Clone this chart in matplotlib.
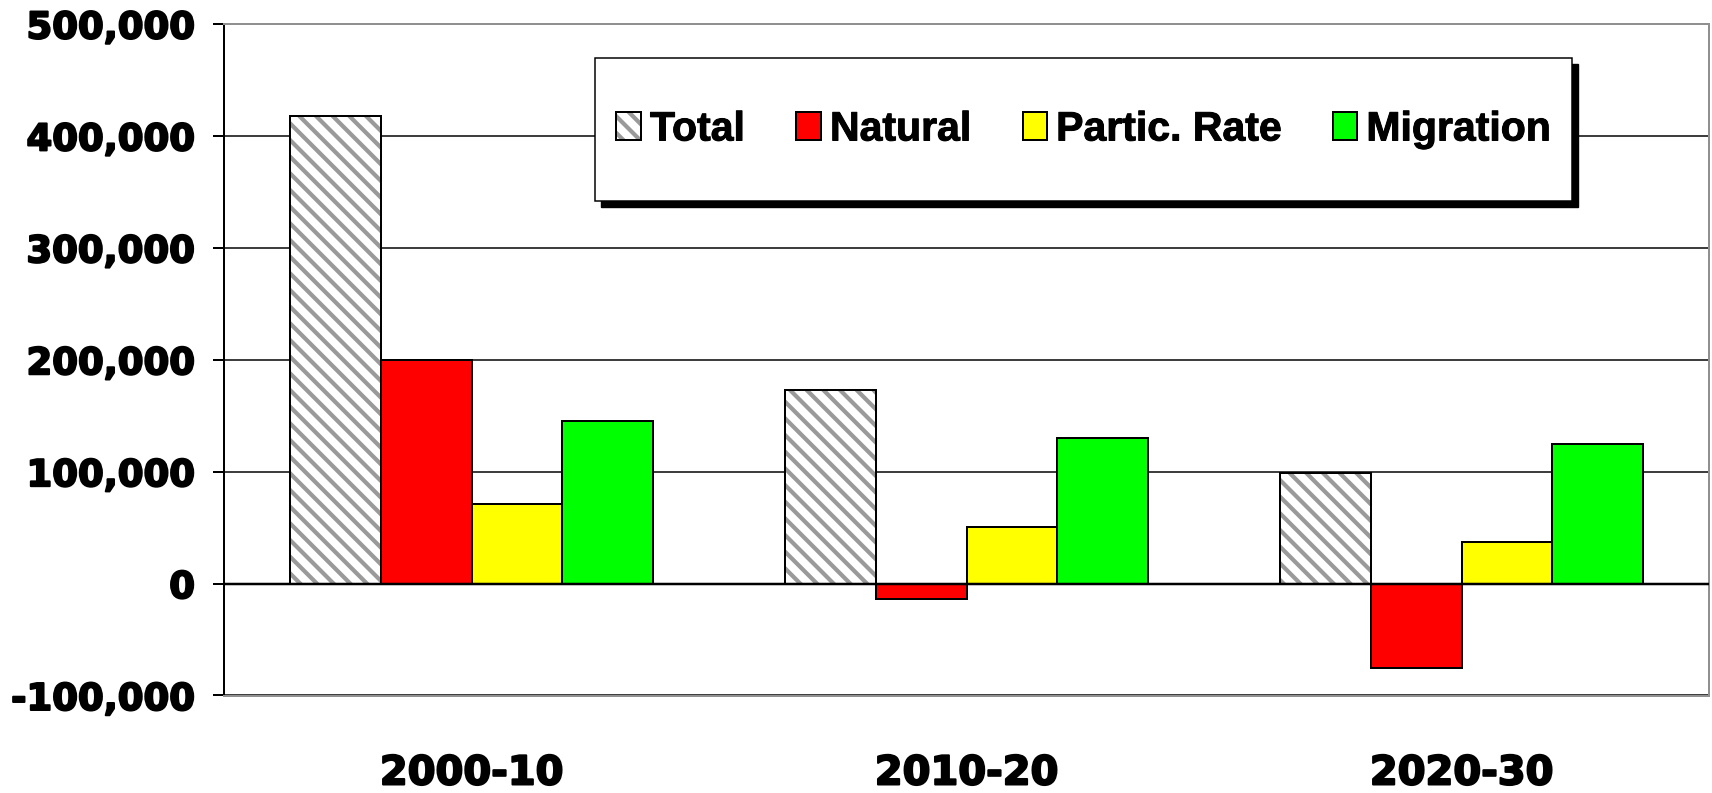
import numpy as np
import matplotlib
matplotlib.use("Agg")
import matplotlib.pyplot as plt
import matplotlib.patheffects as pe
from matplotlib.patches import Rectangle
from matplotlib.ticker import FuncFormatter

periods = ["2000-10", "2010-20", "2020-30"]
series = ["Total", "Natural", "Partic. Rate", "Migration"]
total = [418000, 173000, 98500]
natural = [200000, -14000, -75500]
partic = [71500, 50500, 37000]
migration = [145000, 130000, 124500]

colors = ["#ff0000", "#ffff00", "#00ff00"]

W, H = 1712, 793
DPI = 100
PT = 72 / DPI  # points per pixel

plt.rcParams["hatch.linewidth"] = 4.2 * PT

fig = plt.figure(figsize=(W / DPI, H / DPI), dpi=DPI)
ax = fig.add_axes([224 / W, 1 - 695.5 / H, (1709 - 224) / W, (695.5 - 24) / H])

x = np.arange(len(periods))
bw = 0.183

# hatched total bars: grey stripes, black outline drawn separately
hb = ax.bar(x - 1.5 * bw, total, bw, color="white", hatch="\\\\", edgecolor="#9a9a9a",
            linewidth=0, zorder=2)
ob = ax.bar(x - 1.5 * bw, total, bw, fill=False, edgecolor="black", linewidth=2 * PT, zorder=2.1)
handles = [(hb, ob)]
for i, (vals, c) in enumerate(zip([natural, partic, migration], colors)):
    b = ax.bar(x + (i - 0.5) * bw, vals, bw, color=c, edgecolor="black",
               linewidth=2 * PT, zorder=2)
    handles.append(b)

ax.set_xlim(-0.5, 2.5)
ax.set_ylim(-100000, 500000)
ax.set_yticks(np.arange(-100000, 500001, 100000))
ax.yaxis.set_major_formatter(FuncFormatter(lambda v, p: f"{int(v):,}"))
ax.yaxis.grid(True, color="black", lw=1.5 * PT)
ax.set_axisbelow(True)
ax.axhline(0, color="black", lw=2.5 * PT, zorder=3)

heavy = [pe.withStroke(linewidth=2.0 * PT, foreground="black")]
ax.set_xticks(x)
ax.set_xticklabels(periods)
ax.tick_params(axis="x", length=0, pad=58 * PT)
ax.tick_params(axis="y", length=11 * PT, width=2 * PT, pad=18 * PT, direction="out")
for lab in ax.get_yticklabels():
    lab.set_fontfamily("DejaVu Sans")
    lab.set_fontweight("bold")
    lab.set_fontsize(37 * PT)
    lab.set_path_effects(heavy)
for lab in ax.get_xticklabels():
    lab.set_fontfamily("DejaVu Sans")
    lab.set_fontweight("bold")
    lab.set_fontsize(40 * PT)
    lab.set_path_effects(heavy)

ax.spines["left"].set_color("black")
ax.spines["left"].set_linewidth(2 * PT)
for s in ["right", "top", "bottom"]:
    ax.spines[s].set_color("#909090")
    ax.spines[s].set_linewidth(2 * PT)

# legend box with shadow
bx0, bx1, by0, by1 = 595, 1572, 58, 201
fig.add_artist(Rectangle(((bx0 + 6) / W, 1 - (by1 + 6) / H), (bx1 - bx0) / W, (by1 - by0) / H,
                         transform=fig.transFigure, facecolor="black", edgecolor="black", zorder=3))
fig.add_artist(Rectangle((bx0 / W, 1 - by1 / H), (bx1 - bx0) / W, (by1 - by0) / H,
                         transform=fig.transFigure, facecolor="white", edgecolor="black",
                         linewidth=1.5 * PT, zorder=4))
leg = fig.legend(handles=handles, labels=series, ncol=4, loc="center", frameon=False,
                 bbox_to_anchor=((bx0 + bx1) / 2 / W, 1 - (by0 + by1) / 2 / H),
                 prop={"family": "Liberation Sans", "weight": "bold", "size": 41 * PT},
                 handlelength=0.6, handleheight=0.65, handletextpad=0.22, columnspacing=1.25)
for t in leg.get_texts():
    t.set_path_effects([pe.withStroke(linewidth=1.0 * PT, foreground="black")])

fig.savefig("out.png", dpi=DPI)
